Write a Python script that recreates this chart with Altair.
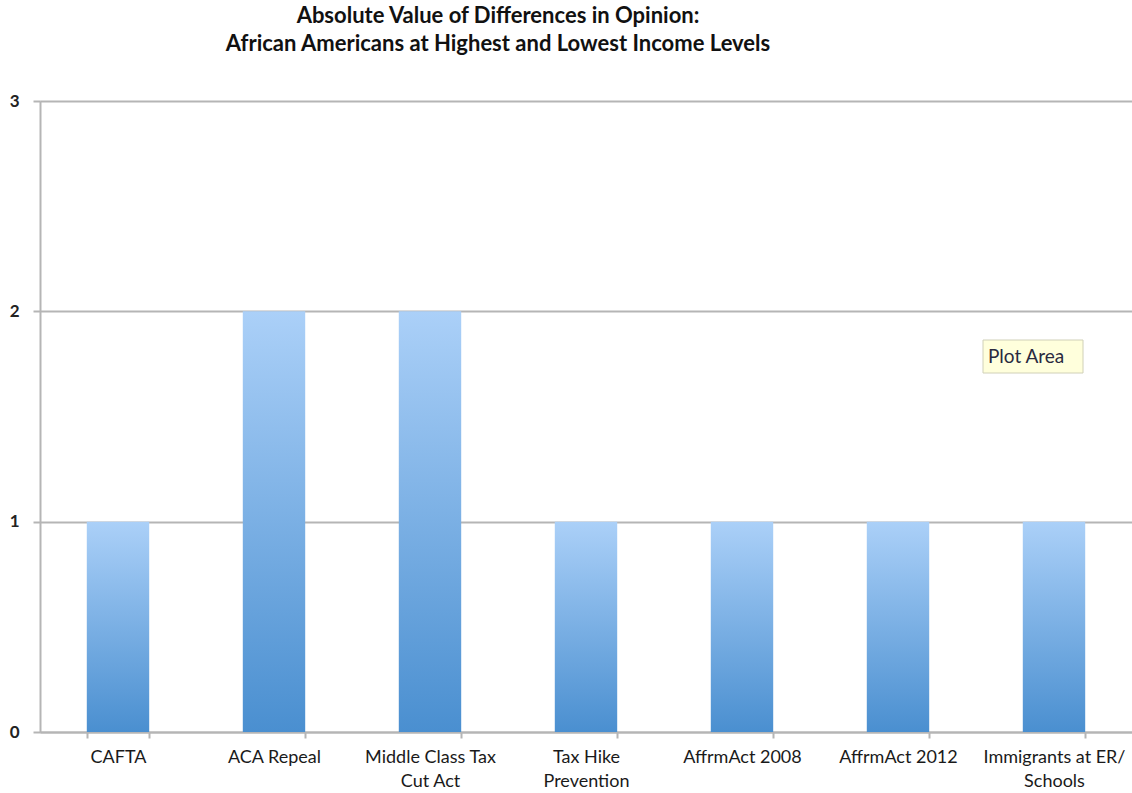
import altair as alt
import pandas as pd

categories = ["CAFTA", "ACA Repeal", "Middle Class Tax|Cut Act", "Tax Hike|Prevention",
              "AffrmAct 2008", "AffrmAct 2012", "Immigrants at ER/|Schools"]
values = [1, 2, 2, 1, 1, 1, 1]
y_ticks = [0, 1, 2, 3]
title_lines = ["Absolute Value of Differences in Opinion:",
               "African Americans at Highest and Lowest Income Levels"]
note_text = ["Plot Area"]

df = pd.DataFrame({"category": categories, "value": values})
note_df = pd.DataFrame({"t": note_text})

FONT = "Lato"
GRAY = "#b5b5b5"

grad = alt.Gradient(
    gradient="linear",
    stops=[alt.GradientStop(color="#4a8fd0", offset=0),
           alt.GradientStop(color="#abd0f8", offset=1)],
    x1=0, x2=0, y1=1, y2=0,
)

bars = alt.Chart(df).mark_bar(color=grad).encode(
    x=alt.X("category:N", sort=categories,
            scale=alt.Scale(paddingInner=0.6, paddingOuter=0.3),
            axis=alt.Axis(title=None, labelAngle=0, labelFont=FONT, labelFontSize=18,
                          labelColor="#1a1a1a", labelLineHeight=24, labelPadding=10,
                          labelExpr="split(datum.label, '|')", tickBand="extent",
                          tickColor=GRAY, tickSize=6, tickWidth=2,
                          domainColor=GRAY, domainWidth=2, grid=False)),
    y=alt.Y("value:Q", scale=alt.Scale(domain=[0, 3], nice=False),
            axis=alt.Axis(title=None, values=y_ticks, format="d", labelFont=FONT,
                          labelFontSize=17, labelFontWeight="bold", labelColor="#222222",
                          labelPadding=14, tickColor=GRAY, tickSize=7, tickWidth=2,
                          domainColor=GRAY, domainWidth=2, gridColor=GRAY, gridWidth=2)),
)

note_box = alt.Chart(note_df).mark_rect(
    fill="#ffffdc", stroke="#d0d0b8", strokeWidth=1
).encode(x=alt.value(943), x2=alt.value(1043), y=alt.value(239), y2=alt.value(272))

note = alt.Chart(note_df).mark_text(
    font=FONT, fontSize=19, color="#2a2a40", align="left", baseline="middle"
).encode(text="t:N", x=alt.value(948), y=alt.value(256))

chart = alt.layer(bars, note_box, note).properties(
    width=1092, height=631,
    padding={"left": 40, "top": 101, "right": 0, "bottom": 61},
    autosize=alt.AutoSizeParams(type="none"),
    title=alt.TitleParams(text=title_lines, font=FONT, fontSize=22, fontWeight="bold",
                          color="#111111", lineHeight=28, anchor="middle", dx=-88,
                          offset=36),
).configure_view(stroke=None).configure(background="white")

chart.save("out.html", embed_options={"renderer": "svg", "actions": False})
